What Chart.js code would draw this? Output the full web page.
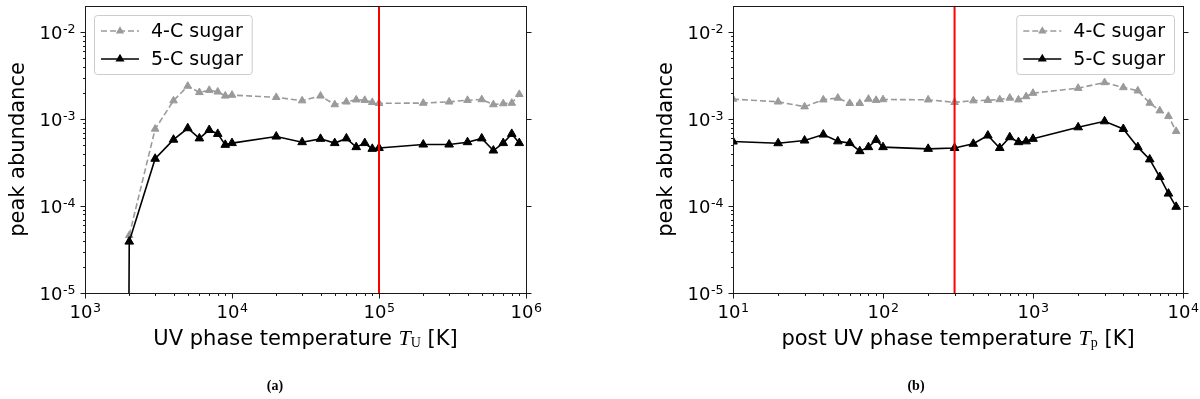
<!DOCTYPE html>
<html><head><meta charset="utf-8">
<script src="https://cdn.jsdelivr.net/npm/chart.js@4/dist/chart.umd.min.js"></script>
<style>
html,body{margin:0;padding:0;background:#fff;width:1200px;height:399px;overflow:hidden}
canvas{position:absolute;top:0}
#c1{left:0}
#c2{left:600px}
</style></head><body>
<canvas id="c1" width="600" height="399"></canvas>
<canvas id="c2" width="600" height="399"></canvas>
<script>
// ---------- data (a): UV phase temperature ----------
const TU_TEMPS = [2e3,3e3,4e3,5e3,6e3,7e3,8e3,9e3,1e4,2e4,3e4,4e4,5e4,6e4,7e4,8e4,9e4,1e5,2e5,3e5,4e5,5e5,6e5,7e5,8e5,9e5];
const TU_SUGAR4 = [4.6e-5,7.7e-4,1.63e-3,2.4e-3,2.03e-3,2.15e-3,2.06e-3,1.85e-3,1.89e-3,1.78e-3,1.63e-3,1.85e-3,1.47e-3,1.58e-3,1.67e-3,1.65e-3,1.56e-3,1.52e-3,1.53e-3,1.58e-3,1.65e-3,1.68e-3,1.47e-3,1.51e-3,1.53e-3,1.93e-3];
const TU_SUGAR5 = [3.9e-5,3.5e-4,5.8e-4,7.85e-4,6.0e-4,7.5e-4,6.76e-4,5.06e-4,5.3e-4,6.3e-4,5.43e-4,5.93e-4,5.3e-4,6.0e-4,4.76e-4,5.3e-4,4.55e-4,4.65e-4,5.1e-4,5.1e-4,5.43e-4,6.0e-4,4.35e-4,5.3e-4,6.76e-4,5.3e-4];
// 5-C sugar at T_U = 1000 K is ~0 (far below the log axis)
const TU_SUGAR5_OFFSCALE_T = 1e3;
const OFFSCALE_ABUNDANCE = 1e-100;
const TU_MARKER = 1e5;
const TU_RANGE = [1e3, 1e6];

// ---------- data (b): post UV phase temperature ----------
const TP_TEMPS = [10,20,30,40,50,60,70,80,90,100,200,300,400,500,600,700,800,900,1000,2000,3000,4000,5000,6000,7000,8000,9000];
const TP_SUGAR4 = [1.70e-3,1.58e-3,1.39e-3,1.67e-3,1.75e-3,1.52e-3,1.52e-3,1.70e-3,1.65e-3,1.68e-3,1.67e-3,1.56e-3,1.63e-3,1.65e-3,1.68e-3,1.75e-3,1.67e-3,1.82e-3,1.99e-3,2.27e-3,2.64e-3,2.31e-3,2.12e-3,1.53e-3,1.25e-3,1.08e-3,7.25e-4];
const TP_SUGAR5 = [5.52e-4,5.28e-4,5.67e-4,6.64e-4,5.55e-4,5.30e-4,4.28e-4,4.76e-4,5.77e-4,4.76e-4,4.55e-4,4.65e-4,5.20e-4,6.47e-4,4.65e-4,6.19e-4,5.43e-4,5.55e-4,5.93e-4,8.05e-4,9.44e-4,7.70e-4,4.76e-4,3.44e-4,2.16e-4,1.39e-4,9.8e-5];
const TP_MARKER = 300;
const TP_RANGE = [10, 1e4];

const Y_RANGE = [1e-5, 0.02];
const SERIES_LABELS = ['4-C sugar', '5-C sugar'];
const Y_TITLE = 'peak abundance';

// ---------- helpers ----------
const SANS = "'DejaVu Sans', sans-serif";
const SERIF = "'Liberation Serif', 'DejaVu Serif', serif";
function majors(min, max){
  const out = [];
  for (let e = Math.ceil(Math.log10(min) - 1e-9); e <= Math.floor(Math.log10(max) + 1e-9); e++) out.push(Math.pow(10, e));
  return out;
}
function minors(min, max){
  const out = [];
  for (let e = Math.floor(Math.log10(min)); e <= Math.floor(Math.log10(max)); e++)
    for (let m = 2; m <= 9; m++){ const v = m * Math.pow(10, e); if (v > min * 1.0001 && v < max * 0.9999) out.push(v); }
  return out;
}
function tri(ctx, x, y, r){
  ctx.beginPath();
  let a = 0;
  ctx.moveTo(x + Math.sin(a) * r, y - Math.cos(a) * r);
  a += 2 * Math.PI / 3; ctx.lineTo(x + Math.sin(a) * r, y - Math.cos(a) * r);
  a += 2 * Math.PI / 3; ctx.lineTo(x + Math.sin(a) * r, y - Math.cos(a) * r);
  ctx.closePath();
}
// draw "10^e" tick label; anchor: 'right' (y axis) or 'center' (x axis)
function powText(ctx, v, x, baseline, anchor){
  const e = Math.round(Math.log10(v));
  const base = '10', exp = String(e);
  ctx.font = '18px ' + SANS; const wb = ctx.measureText(base).width;
  ctx.font = '12.6px ' + SANS; const we = ctx.measureText(exp).width;
  const w = wb + we;
  const x0 = anchor === 'right' ? x - w : x - w / 2;
  ctx.textAlign = 'left'; ctx.textBaseline = 'alphabetic'; ctx.fillStyle = '#000';
  ctx.font = '18px ' + SANS; ctx.fillText(base, x0, baseline);
  ctx.font = '12.6px ' + SANS; ctx.fillText(exp, x0 + wb + 0.5, baseline - 5.8);
}

const framePlugin = {
  id: 'frame',
  afterDatasetsDraw(chart, args, opts){
    const ctx = chart.ctx, ca = chart.chartArea, xs = chart.scales.x, ys = chart.scales.y;
    const L = Math.round(ca.left) + 0.5, R = Math.round(ca.right) + 0.5, T = Math.round(ca.top) + 0.5, B = Math.round(ca.bottom) + 0.5;
    ctx.save();
    ctx.strokeStyle = '#1a1a1a'; ctx.lineWidth = 1;
    ctx.strokeRect(L, T, R - L, B - T);
    ctx.beginPath();
    const px = v => Math.round(xs.getPixelForValue(v)) + 0.5;
    const py = v => Math.round(ys.getPixelForValue(v)) + 0.5;
    majors(xs.min, xs.max).forEach(v => { ctx.moveTo(px(v), B); ctx.lineTo(px(v), B + 5); });
    minors(xs.min, xs.max).forEach(v => { ctx.moveTo(px(v), B); ctx.lineTo(px(v), B + 2.5); });
    majors(ys.min, ys.max).forEach(v => { ctx.moveTo(L, py(v)); ctx.lineTo(L - 5, py(v)); ctx.moveTo(R, py(v)); ctx.lineTo(R + 5, py(v)); });
    minors(ys.min, ys.max).forEach(v => { ctx.moveTo(L, py(v)); ctx.lineTo(L - 2.5, py(v)); });
    ctx.stroke();
    // tick labels
    majors(xs.min, xs.max).forEach(v => powText(ctx, v, xs.getPixelForValue(v), ca.bottom + 25, 'center'));
    majors(ys.min, ys.max).forEach(v => powText(ctx, v, ca.left - 10, ys.getPixelForValue(v) + 6.5, 'right'));
    ctx.restore();
  },
  afterDraw(chart, args, opts){
    const ctx = chart.ctx, ca = chart.chartArea;
    ctx.save();
    // legend
    const items = chart.data.datasets.filter(d => d.inLegend);
    const LF = '19px ' + SANS;
    ctx.font = LF;
    const tw = Math.max(...items.map(d => ctx.measureText(d.label).width));
    const W = 7 + 38 + 12 + tw + 9, H = 59;
    const x0 = opts.legendSide === 'left' ? ca.left + 9 : ca.right - 9 - W;
    const y0 = ca.top + 9;
    ctx.beginPath();
    ctx.roundRect(x0 + 0.5, y0 + 0.5, W, H, 3);
    ctx.fillStyle = 'rgba(255,255,255,0.85)'; ctx.fill();
    ctx.strokeStyle = '#cccccc'; ctx.lineWidth = 1; ctx.stroke();
    items.forEach((d, i) => {
      const yy = y0 + 16 + i * 28;
      ctx.beginPath();
      ctx.setLineDash(d.borderDash || []);
      ctx.strokeStyle = d.borderColor; ctx.lineWidth = d.borderWidth;
      ctx.moveTo(x0 + 7, yy); ctx.lineTo(x0 + 45, yy); ctx.stroke();
      ctx.setLineDash([]);
      tri(ctx, x0 + 26, yy, d.legendRadius);
      ctx.fillStyle = d.pointBackgroundColor; ctx.fill();
      ctx.fillStyle = '#000'; ctx.textBaseline = 'middle'; ctx.textAlign = 'left';
      ctx.font = LF;
      ctx.fillText(d.label, x0 + 57, yy + 1);
    });
    // x title with math part
    const segs = opts.xTitle;
    let total = 0;
    segs.forEach(s => { ctx.font = s.f; s.w = ctx.measureText(s.t).width; total += s.w; });
    let x = (ca.left + ca.right) / 2 - total / 2;
    ctx.fillStyle = '#000'; ctx.textBaseline = 'alphabetic'; ctx.textAlign = 'left';
    segs.forEach(s => { ctx.font = s.f; ctx.fillText(s.t, x, 345 + (s.dy || 0)); x += s.w; });
    // caption
    ctx.font = 'bold 14px ' + SERIF; ctx.textAlign = 'center'; ctx.textBaseline = 'middle';
    ctx.fillText(opts.caption, opts.captionX, 386);
    ctx.restore();
  }
};

function makeChart(id, temps, s4, s5, marker, xRange, extra){
  const d4 = temps.map((t, i) => ({x: t, y: s4[i]}));
  const d5 = temps.map((t, i) => ({x: t, y: s5[i]}));
  if (extra) d5.unshift(extra);
  return new Chart(document.getElementById(id), {
    type: 'line',
    data: {datasets: [
      {label: 'marker', data: [{x: marker, y: Y_RANGE[0]}, {x: marker, y: Y_RANGE[1]}], borderColor: '#ff0000', borderWidth: 2, pointRadius: 0, order: 0, inLegend: false},
      {label: SERIES_LABELS[0], data: d4, borderColor: '#9a9a9a', borderWidth: 1.6, borderDash: [6, 3],
       pointStyle: 'triangle', pointRadius: 4.4, pointBackgroundColor: '#9a9a9a', pointBorderColor: '#9a9a9a', pointBorderWidth: 1,
       order: 2, inLegend: true, legendRadius: 4.8},
      {label: SERIES_LABELS[1], data: d5, borderColor: '#000', borderWidth: 1.6,
       pointStyle: 'triangle', pointRadius: c => (c.raw && c.raw.y < Y_RANGE[0]) ? 0 : 5, pointBackgroundColor: '#000', pointBorderColor: '#000', pointBorderWidth: 1,
       order: 1, inLegend: true, legendRadius: 5.2}
    ]},
    options: {
      responsive: false, animation: false, devicePixelRatio: 1,
      layout: {padding: {left: extra ? 0 : 48, right: extra ? 74 : 17, top: 5, bottom: 0}},
      plugins: {legend: {display: false}, tooltip: {enabled: false}, frame: extra ? {
          legendSide: 'left', caption: '(a)', captionX: 275,
          xTitle: [{t: 'UV phase temperature ', f: '21px ' + SANS}, {t: 'T', f: 'italic 22px ' + SERIF}, {t: 'U', f: '14px ' + SERIF, dy: 2}, {t: ' [K]', f: '21px ' + SANS}]
        } : {
          legendSide: 'right', caption: '(b)', captionX: 316,
          xTitle: [{t: 'post UV phase temperature ', f: '21px ' + SANS}, {t: 'T', f: 'italic 22px ' + SERIF}, {t: 'p', f: '14px ' + SERIF, dy: 2}, {t: ' [K]', f: '21px ' + SANS}]
        }},
      scales: {
        x: {type: 'logarithmic', position: 'bottom', min: xRange[0], max: xRange[1],
            afterFit: s => { s.height = 106; s.paddingLeft = 0; s.paddingRight = 0; },
            ticks: {display: false},
            grid: {display: false, drawTicks: false}, border: {display: false}},
        y: {type: 'logarithmic', position: 'left', min: Y_RANGE[0], max: Y_RANGE[1],
            afterFit: s => { s.width = 85; s.paddingTop = 0; s.paddingBottom = 0; },
            ticks: {display: false},
            grid: {display: false, drawTicks: false}, border: {display: false},
            title: {display: true, text: Y_TITLE, font: {family: SANS, size: 21}, color: '#000', padding: {top: 6, bottom: 0}}}
      }
    },
    plugins: [framePlugin]
  });
}

makeChart('c1', TU_TEMPS, TU_SUGAR4, TU_SUGAR5, TU_MARKER, TU_RANGE, {x: TU_SUGAR5_OFFSCALE_T, y: OFFSCALE_ABUNDANCE});
makeChart('c2', TP_TEMPS, TP_SUGAR4, TP_SUGAR5, TP_MARKER, TP_RANGE, null);
</script>
</body></html>
